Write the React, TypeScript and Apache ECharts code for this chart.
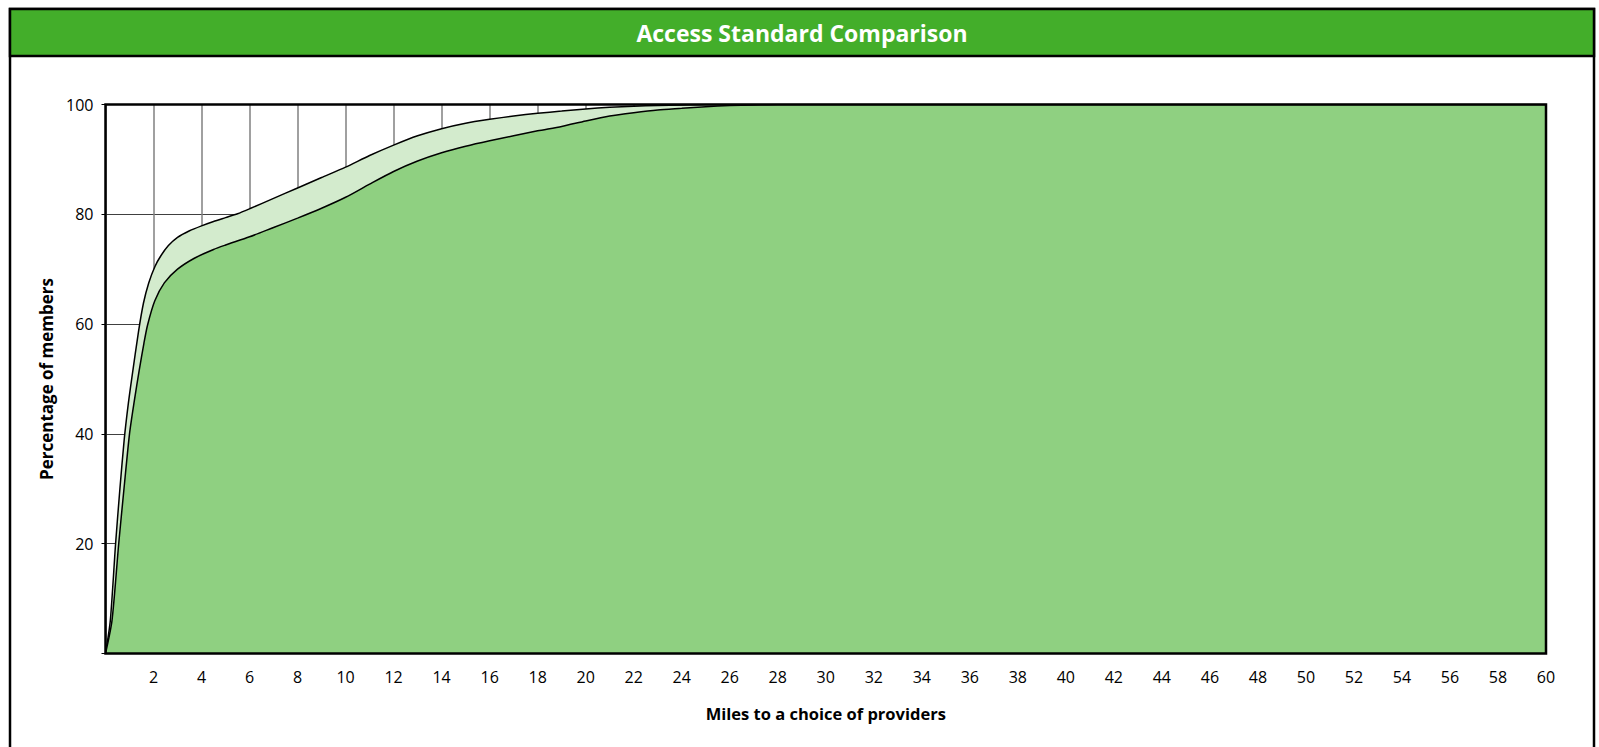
import React, { useEffect, useRef } from "react";
import * as echarts from "echarts";

// Miles / percentage pairs
const upperMiles = [0, 0.2, 0.42, 0.6, 0.78, 0.95, 1.1, 1.37, 1.58, 1.8, 2.06, 2.3, 2.62, 3.0, 3.5, 4.0, 4.5, 5.0, 5.5, 6.0, 7.0, 8.0, 9.0, 10.0, 11.0, 12.0, 13.0, 14.0, 15.0, 16.0, 17.0, 18.0, 19.0, 20.0, 21.0, 22.0, 23.0, 24.0, 25.0, 60.0];
const upperPct = [0, 6, 20, 30, 39, 45.5, 50.3, 58.5, 63.8, 67.5, 70.5, 72.4, 74.3, 75.8, 77.0, 77.9, 78.7, 79.4, 80.1, 81, 82.9, 84.8, 86.7, 88.6, 90.7, 92.6, 94.3, 95.6, 96.6, 97.3, 97.9, 98.4, 98.8, 99.2, 99.5, 99.7, 99.8, 99.9, 100, 100];

const lowerMiles = [0, 0.27, 0.55, 0.77, 1.0, 1.2, 1.4, 1.6, 1.75, 2.05, 2.45, 3.0, 3.7, 4.5, 5.0, 6.0, 7.0, 8.0, 9.0, 10.0, 11.0, 12.0, 13.0, 14.0, 15.0, 16.0, 17.0, 18.0, 19.0, 20.0, 21.0, 22.0, 23.0, 24.0, 25.0, 26.0, 27.0, 28.0, 60.0];
const lowerPct = [0, 6, 20, 30, 40, 46, 51.5, 56.5, 59.8, 64.2, 67.5, 70.0, 72.0, 73.6, 74.4, 75.9, 77.6, 79.3, 81.1, 83.1, 85.5, 87.8, 89.7, 91.2, 92.4, 93.4, 94.3, 95.2, 96.0, 97.0, 97.9, 98.5, 99.0, 99.3, 99.6, 99.8, 99.9, 100, 100];

const titleText = "Access Standard Comparison";
const xAxisName = "Miles to a choice of providers";
const yAxisName = "Percentage of members";
const xMin = 0, xMax = 60, xStep = 2;
const yMin = 0, yMax = 100, yStep = 20;

const FONT = "'Open Sans', 'Noto Sans', sans-serif";

export default function App() {
  const ref = useRef<HTMLDivElement>(null);
  useEffect(() => {
    if (!ref.current) return;
    const chart = echarts.init(ref.current, undefined, { renderer: "svg" });
    const gl = 105.5, gt = 104.5, gw = 1440.5, gh = 549;
    const pair = (xs: number[], ys: number[]) => xs.map((x, i) => [x, ys[i]]);
    chart.setOption({
      animation: false,
      backgroundColor: "#ffffff",
      grid: { left: gl, top: gt, width: gw, height: gh, show: false },
      xAxis: {
        type: "value",
        min: xMin,
        max: xMax,
        interval: xStep,
        name: xAxisName,
        nameLocation: "middle",
        nameGap: 51,
        nameTextStyle: { fontFamily: FONT, fontSize: 16.5, fontWeight: "bold", color: "#000" },
        axisLine: { show: false },
        axisTick: { show: false },
        axisLabel: {
          margin: 15,
          fontFamily: FONT,
          fontSize: 16,
          color: "#000",
          formatter: (v: number) => (v === 0 ? "" : String(v)),
        },
        splitLine: { show: true, lineStyle: { color: "#808080", width: 1.5 } },
      },
      yAxis: {
        type: "value",
        min: yMin,
        max: yMax,
        interval: yStep,
        name: yAxisName,
        nameLocation: "middle",
        nameGap: 48,
        nameTextStyle: { fontFamily: FONT, fontSize: 17, fontWeight: "bold", color: "#000" },
        axisLine: { show: false },
        axisTick: { show: true, inside: false, length: 4, lineStyle: { color: "#000", width: 1 } },
        axisLabel: {
          margin: 12,
          fontFamily: FONT,
          fontSize: 16,
          color: "#000",
          formatter: (v: number) => (v === 0 ? "" : String(v)),
        },
        splitLine: { show: true, lineStyle: { color: "#404040", width: 1 } },
      },
      series: [
        {
          type: "line",
          data: pair(upperMiles, upperPct),
          smooth: 0.25,
          symbol: "none",
          lineStyle: { color: "#000", width: 1.5 },
          areaStyle: { color: "#D3EBCD", opacity: 1 },
          z: 2,
        },
        {
          type: "line",
          data: pair(lowerMiles, lowerPct),
          smooth: 0.25,
          symbol: "none",
          lineStyle: { color: "#000", width: 1.5 },
          areaStyle: { color: "#8FD081", opacity: 1 },
          z: 3,
        },
      ],
      graphic: [
        {
          type: "rect",
          z: 100,
          shape: { x: 10, y: 9, width: 1584, height: 760 },
          style: { fill: "none", stroke: "#000", lineWidth: 2.5 },
        },
        {
          type: "rect",
          z: 101,
          shape: { x: 10, y: 9, width: 1584, height: 47 },
          style: { fill: "#43AE2A", stroke: "#000", lineWidth: 2.5 },
        },
        {
          type: "text",
          z: 102,
          x: 802,
          y: 33,
          style: {
            text: titleText,
            fill: "#fff",
            fontFamily: FONT,
            fontSize: 23,
            fontWeight: "bold",
            align: "center",
            verticalAlign: "middle",
          },
        },
        {
          type: "rect",
          z: 100,
          shape: { x: gl, y: gt, width: gw, height: gh },
          style: { fill: "none", stroke: "#000", lineWidth: 2.5 },
        },
      ],
    });
    return () => chart.dispose();
  }, []);
  return <div ref={ref} style={{ position: "fixed", left: 0, top: 0, width: 1599, height: 747 }} />;
}
